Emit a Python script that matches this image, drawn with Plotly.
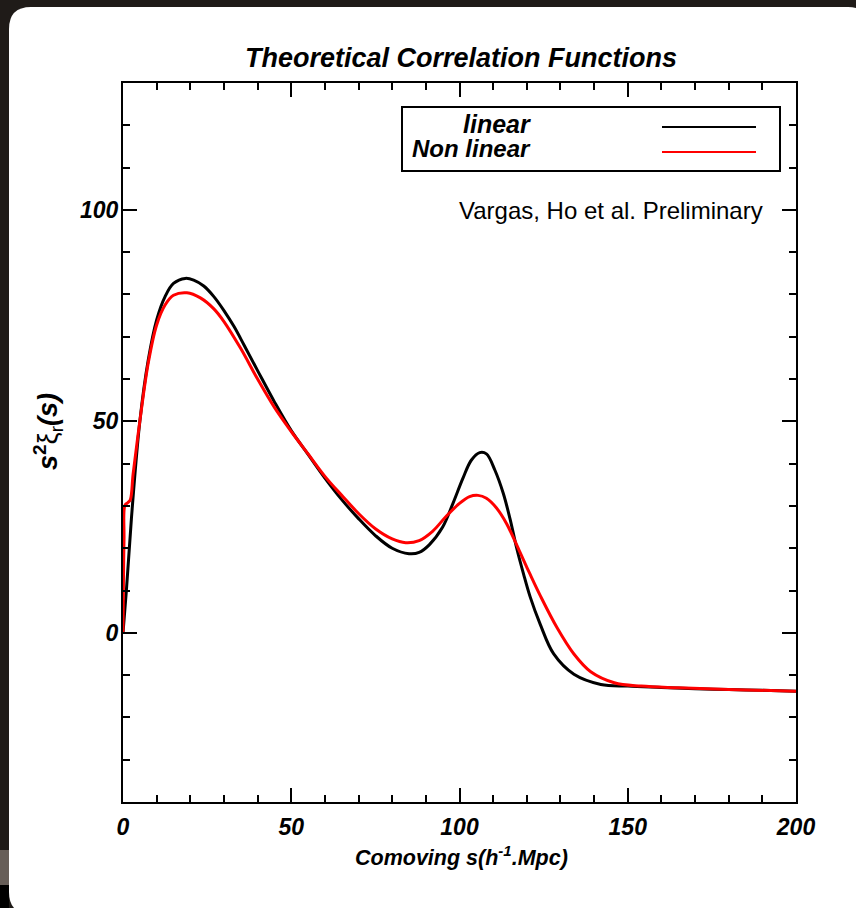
import plotly.graph_objects as go

# ---------------- data ----------------
s_linear = [0, 1, 2.5, 5, 7.5, 10, 12.5, 15, 18.5, 21, 24, 27, 30, 33, 36, 40, 45, 50, 55, 60, 65, 70,
            75, 80, 85, 88, 91, 95, 98, 101, 103.5, 106, 108, 110.5, 113, 115, 117, 119, 121,
            124, 128, 134, 142, 150, 160, 170, 180, 190, 200]
xi_linear = [0, 10, 27, 50, 64.5, 74, 79.5, 82.6, 83.8, 83.4, 82, 79.5, 76.2, 72.4, 68, 62, 54.6, 47.8,
             42.2, 36.6, 31.5, 27, 23, 20, 18.7, 19, 20.8, 25, 30.5, 36.5, 40.8, 42.6, 42.3, 38.5,
             33, 27, 20, 14, 8.5, 2, -5, -9.8, -12.2, -12.6, -12.9, -13.2, -13.4, -13.6, -13.8]

s_nonlinear = [0, 0.3, 0.6, 1.5, 2.2, 3, 5, 7.5, 10, 12.5, 15, 19, 23, 27, 30, 35, 40, 45, 50, 55,
               60, 65, 70, 75, 80, 84, 88, 92, 96, 100, 103, 105.5, 108, 111, 114, 118, 121, 124,
               129, 134, 139, 146, 154, 165, 180, 200]
xi_nonlinear = [0, 22, 30.2, 30.8, 31.5, 37.5, 50, 63.8, 72.8, 77.5, 79.8, 80.4, 79.2, 76.6, 73.6,
                67.2, 60, 53.3, 47.6, 42.3, 37, 32.5, 28.2, 24.6, 22.2, 21.3, 21.8, 24, 27.5, 30.6,
                32.2, 32.5, 31.8, 29.5, 25.8, 19, 13.8, 8.8, 1.2, -5.0, -9.2, -11.8, -12.6, -13.0,
                -13.4, -13.8]

series_names = ["linear", "Non linear"]
series_colors = ["#000000", "#ff0000"]

title_text = "Theoretical Correlation Functions"
x_title = "Comoving s(h<sup>-1</sup>.Mpc)"
note_text = "Vargas, Ho et al. Preliminary"

# ---------------- layout geometry ----------------
W, H = 856, 908
L, R, T, B = 123, 60, 83, 106
PW, PH = W - L - R, H - T - B


def px(x):
    return (x - L) / PW


def py(y):
    return (H - B - y) / PH


FONT = "Liberation Sans, Arial, sans-serif"

fig = go.Figure()
for xs, ys, name, col in [(s_linear, xi_linear, series_names[0], series_colors[0]),
                          (s_nonlinear, xi_nonlinear, series_names[1], series_colors[1])]:
    fig.add_trace(go.Scatter(x=xs, y=ys, mode="lines", name=name,
                             line=dict(color=col, width=3, shape="spline", smoothing=1.0),
                             showlegend=False, hoverinfo="skip"))

axis_common = dict(
    showgrid=False, zeroline=False, showline=True, linecolor="black", linewidth=2,
    mirror="allticks", ticks="inside", ticklen=14, tickwidth=1.5, tickcolor="black",
    tickfont=dict(family=FONT, size=23, color="black", weight="bold", style="italic"),
    minor=dict(ticks="inside", ticklen=7, tickwidth=1.5, tickcolor="black", dtick=10),
)

fig.update_xaxes(range=[0, 200], tick0=0, dtick=50, ticklabelstandoff=3, **axis_common)
fig.update_yaxes(range=[-40, 130], tick0=0, dtick=50, ticklabelstandoff=-2, **axis_common)

shapes = []
# white rounded card behind everything
x0, y0, x1, y1, r = px(9), py(7), px(870), py(914), 22
rx, ry = r / PW, r / PH
path = (f"M {x0+rx},{y0} L {x1-rx},{y0} Q {x1},{y0} {x1},{y0-ry} "
        f"L {x1},{y1+ry} Q {x1},{y1} {x1-rx},{y1} L {x0+rx},{y1} Q {x0},{y1} {x0},{y1+ry} "
        f"L {x0},{y0-ry} Q {x0},{y0} {x0+rx},{y0} Z")
shapes.append(dict(type="path", path=path, xref="paper", yref="paper",
                   fillcolor="white", line=dict(width=0), layer="below"))
shapes.append(dict(type="rect", xref="paper", yref="paper", x0=px(0), x1=px(9), y0=py(850), y1=py(885),
                   fillcolor="#675e58", line=dict(width=0), layer="below"))
shapes.append(dict(type="rect", xref="paper", yref="paper", x0=px(0), x1=px(9), y0=py(885), y1=py(908),
                   fillcolor="#000000", line=dict(width=0), layer="below"))
# legend box
shapes.append(dict(type="rect", xref="paper", yref="paper", x0=px(402), x1=px(780), y0=py(171), y1=py(107),
                   fillcolor="white", line=dict(color="black", width=2)))
for yy, col in [(127, series_colors[0]), (152, series_colors[1])]:
    shapes.append(dict(type="line", xref="paper", yref="paper", x0=px(662), x1=px(756), y0=py(yy), y1=py(yy),
                       line=dict(color=col, width=2)))

annotations = [
    dict(text=f"<b><i>{series_names[0]}</i></b>", xref="paper", yref="paper", x=px(533), y=py(124),
         xanchor="right", yanchor="middle", showarrow=False, font=dict(family=FONT, size=25, color="black")),
    dict(text=f"<b><i>{series_names[1]}</i></b>", xref="paper", yref="paper", x=px(533), y=py(148),
         xanchor="right", yanchor="middle", showarrow=False, font=dict(family=FONT, size=24, color="black")),
    dict(text=note_text, xref="paper", yref="paper", x=px(765), y=py(211),
         xanchor="right", yanchor="middle", showarrow=False, font=dict(family=FONT, size=24, color="black")),
    dict(text=f"<b><i>{x_title}</i></b>", xref="paper", yref="paper", x=px(461), y=py(856),
         xanchor="center", yanchor="middle", showarrow=False, font=dict(family=FONT, size=21.5, color="black")),
    dict(text="<b><i>s</i></b><sup><b>2</b></sup>ξ<sub>r</sub><b><i>(s)</i></b>",
         xref="paper", yref="paper", x=px(48), y=py(432), textangle=-90,
         xanchor="center", yanchor="middle", showarrow=False, font=dict(family=FONT, size=27, color="black")),
]

fig.update_layout(
    width=W, height=H, autosize=False,
    margin=dict(l=L, r=R, t=T, b=B, pad=0),
    paper_bgcolor="#1f1b18", plot_bgcolor="white",
    title=dict(text=f"<b><i>{title_text}</i></b>", x=px(461), xref="paper", xanchor="center",
               y=1 - 58 / H, yref="container", yanchor="middle",
               font=dict(family=FONT, size=27, color="black")),
    shapes=shapes, annotations=annotations, showlegend=False,
)

fig.write_html("out.html")
